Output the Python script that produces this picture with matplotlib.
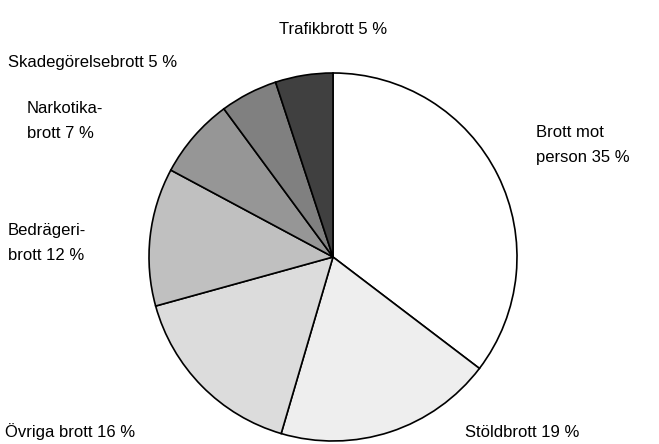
import matplotlib
matplotlib.use("Agg")
import matplotlib.pyplot as plt

categories = ["Brott mot\nperson 35 %", "Stöldbrott 19 %", "Övriga brott 16 %",
              "Bedrägeri-\nbrott 12 %", "Narkotika-\nbrott 7 %",
              "Skadegörelsebrott 5 %", "Trafikbrott 5 %"]
values = [35, 19, 16, 12, 7, 5, 5]
colors = ["#ffffff", "#eeeeee", "#dcdcdc", "#c0c0c0", "#969696", "#808080", "#404040"]

W, H = 659, 444
cx, cy, R = 333, 257, 184

fig = plt.figure(figsize=(W / 100, H / 100), dpi=100)
ax = fig.add_axes([0, 0, 1, 1])
ax.pie(values, colors=colors, startangle=90, counterclock=False, radius=1,
       wedgeprops=dict(edgecolor="black", linewidth=1.2))
ax.set_xlim(-cx / R, (W - cx) / R)
ax.set_ylim(-(H - cy) / R, cy / R)
ax.set_aspect("equal")
ax.axis("off")

def P(px, py):
    return (px - cx) / R, (cy - py) / R

# label anchor positions in pixels (left, vertical center)
label_pos = [(536, 145, "left"), (465, 432, "left"), (5, 432, "left"),
             (8, 243, "left"), (27, 121, "left"), (8, 62, "left"), (333, 29, "center")]
for lab, (px, py, ha) in zip(categories, label_pos):
    x, y = P(px, py)
    ax.text(x, y, lab, ha=ha, va="center", fontsize=12, family="Liberation Sans",
            linespacing=1.9)

fig.savefig("out.png", dpi=100)
